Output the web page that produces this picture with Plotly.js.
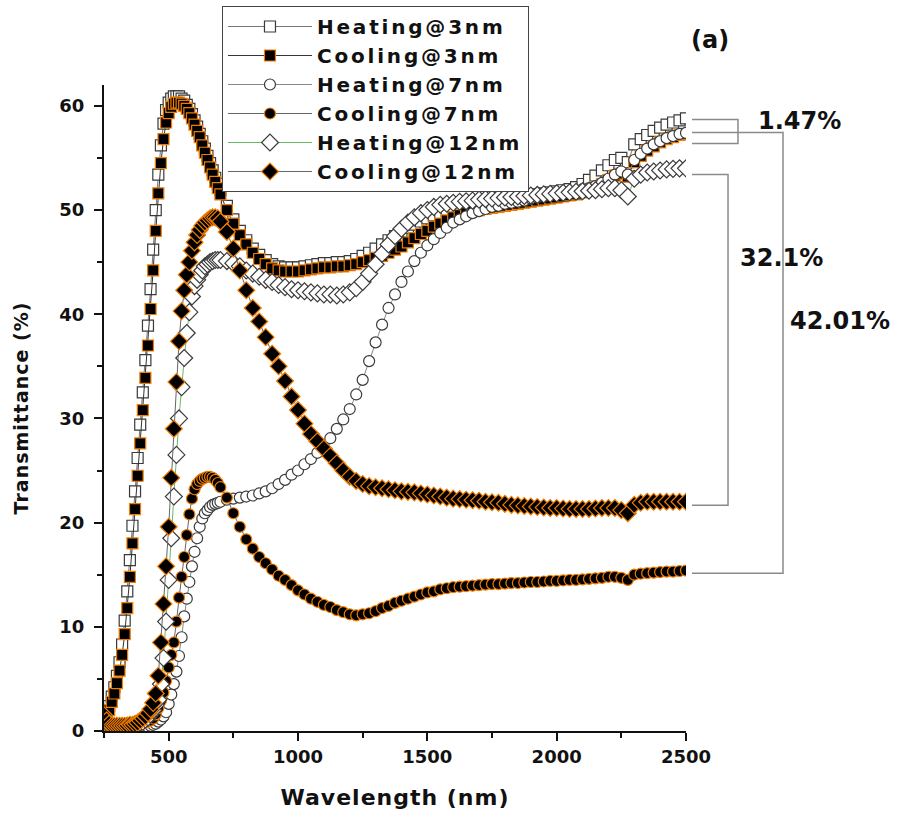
<!DOCTYPE html>
<html><head><meta charset="utf-8">
<script src="https://cdn.plot.ly/plotly-3.0.1.min.js"></script>
<style>html,body{margin:0;padding:0;background:#fff}#chart{width:901px;height:814px}
.legendtext{letter-spacing:2.8px}
.g-xtitle text,.g-ytitle text{letter-spacing:1px}
</style>
</head><body><div id="chart"></div>
<script>
// Wavelength grid (nm)
const wavelength = [
 250,260,270,280,290,300,310,320,330,340,
 350,360,370,380,390,400,410,420,430,440,
 450,460,470,480,490,500,510,520,530,540,
 550,560,570,580,590,600,610,620,630,640,
 650,660,670,680,690,700,725,750,775,800,
 825,850,875,900,925,950,975,1000,1025,1050,
 1075,1100,1125,1150,1175,1200,1225,1250,1275,1300,
 1325,1350,1375,1400,1425,1450,1475,1500,1525,1550,
 1575,1600,1625,1650,1675,1700,1725,1750,1775,1800,
 1825,1850,1875,1900,1925,1950,1975,2000,2025,2050,
 2075,2100,2125,2150,2175,2200,2225,2250,2275,2300,
 2325,2350,2375,2400,2425,2450,2475,2500];

const heating3 = [
 1.0,1.6,2.4,3.3,4.2,5.3,6.6,8.3,10.6,13.4,
 16.4,19.7,23.0,26.2,29.4,32.5,35.6,38.9,42.4,46.2,
 50.0,53.4,56.2,58.3,59.6,60.3,60.7,60.9,60.9,60.9,
 60.7,60.5,60.1,59.7,59.2,58.6,58.0,57.3,56.6,55.9,
 55.2,54.5,53.8,53.1,52.5,51.9,50.4,49.1,48.0,47.1,
 46.3,45.7,45.2,44.8,44.6,44.5,44.5,44.5,44.6,44.7,
 44.8,44.9,44.9,45.0,45.0,45.1,45.3,45.6,45.9,46.3,
 46.7,47.1,47.5,47.9,48.3,48.6,48.9,49.2,49.5,49.7,
 49.9,50.1,50.3,50.4,50.5,50.6,50.7,50.8,50.9,51.0,
 51.1,51.2,51.3,51.4,51.5,51.6,51.7,51.8,51.9,52.0,
 52.2,52.5,52.9,53.3,53.8,54.3,54.8,55.0,54.6,56.3,
 56.8,57.2,57.6,57.9,58.2,58.4,58.6,58.8];

const cooling3 = [
 0.8,1.3,2.0,2.8,3.6,4.6,5.8,7.3,9.3,11.8,
 14.8,18.0,21.3,24.5,27.6,30.8,33.9,37.0,40.5,44.2,
 48.0,51.6,54.5,56.8,58.4,59.3,59.9,60.2,60.3,60.3,
 60.2,60.0,59.7,59.3,58.8,58.2,57.6,57.0,56.2,55.5,
 54.8,54.1,53.4,52.7,52.1,51.5,50.0,48.7,47.6,46.7,
 45.9,45.3,44.8,44.4,44.2,44.1,44.1,44.1,44.2,44.3,
 44.4,44.5,44.5,44.6,44.6,44.7,44.8,45.0,45.2,45.4,
 45.6,45.9,46.2,46.5,46.9,47.3,47.7,48.0,48.4,48.7,
 49.0,49.3,49.5,49.7,49.9,50.0,50.1,50.2,50.3,50.4,
 50.5,50.6,50.7,50.8,50.9,51.0,51.1,51.2,51.3,51.4,
 51.5,51.7,51.9,52.2,52.5,52.9,53.3,53.5,53.2,54.6,
 55.2,55.7,56.1,56.5,56.8,57.0,57.2,57.3];

const heating7 = [
 0.8,0.5,0.3,0.2,0.2,0.2,0.2,0.2,0.2,0.2,
 0.2,0.3,0.3,0.3,0.3,0.3,0.4,0.4,0.5,0.6,
 0.7,0.9,1.1,1.4,1.8,2.6,3.5,4.5,5.7,7.2,
 9.0,11.0,12.7,14.3,15.8,17.2,18.5,19.6,20.4,20.9,
 21.2,21.5,21.7,21.8,21.9,22.0,22.2,22.3,22.4,22.5,
 22.6,22.8,23.0,23.3,23.7,24.1,24.6,25.0,25.6,26.1,
 26.7,27.3,28.1,29.0,29.9,30.9,32.3,33.7,35.5,37.3,
 39.0,40.6,41.9,43.1,44.1,45.1,45.9,46.6,47.2,47.8,
 48.3,48.8,49.1,49.4,49.7,49.9,50.1,50.3,50.4,50.6,
 50.7,50.8,50.9,51.1,51.2,51.3,51.4,51.5,51.6,51.7,
 51.8,52.0,52.1,52.3,52.6,53.0,53.4,53.7,53.4,54.8,
 55.4,55.9,56.3,56.6,56.9,57.1,57.3,57.4];

const cooling7 = [
 1.0,0.6,0.4,0.3,0.3,0.3,0.3,0.3,0.3,0.4,
 0.4,0.4,0.5,0.5,0.6,0.7,0.8,0.9,1.0,1.2,
 1.6,2.2,2.9,3.7,4.8,6.1,7.3,8.5,10.5,12.8,
 14.8,16.7,18.8,20.8,22.3,23.2,23.7,24.0,24.2,24.3,
 24.4,24.4,24.3,24.1,23.8,23.4,22.4,20.9,19.6,18.4,
 17.5,16.7,16.1,15.5,14.9,14.5,14.0,13.5,13.1,12.7,
 12.4,12.1,11.9,11.6,11.4,11.2,11.1,11.2,11.3,11.5,
 11.8,12.0,12.3,12.5,12.7,12.9,13.1,13.3,13.4,13.6,
 13.7,13.8,13.85,13.9,13.95,14.0,14.05,14.1,14.1,14.15,
 14.2,14.2,14.25,14.3,14.3,14.35,14.4,14.4,14.45,14.5,
 14.5,14.55,14.6,14.65,14.7,14.8,14.8,14.7,14.5,15.0,
 15.1,15.15,15.2,15.25,15.3,15.3,15.35,15.4];

const heating12 = [
 1.3,0.9,0.6,0.4,0.4,0.4,0.4,0.4,0.4,0.5,
 0.5,0.5,0.6,0.7,0.8,0.9,1.1,1.3,1.6,2.0,
 2.5,3.0,4.5,7.0,10.5,14.5,18.5,22.5,26.5,30.0,
 33.0,35.8,38.2,40.2,41.7,42.7,43.3,43.8,44.2,44.6,
 44.8,45.0,45.1,45.2,45.2,45.2,45.1,44.9,44.6,44.2,
 43.9,43.6,43.3,43.1,42.8,42.6,42.4,42.3,42.2,42.1,
 42.0,41.9,41.9,41.8,41.9,42.1,42.5,43.1,43.9,44.8,
 45.8,46.7,47.5,48.2,48.8,49.3,49.7,50.0,50.3,50.5,
 50.6,50.7,50.8,50.85,50.9,51.0,51.05,51.1,51.15,51.2,
 51.25,51.3,51.35,51.4,51.45,51.5,51.55,51.6,51.65,51.7,
 51.75,51.8,51.85,51.9,52.0,52.1,52.1,51.9,51.3,53.0,
 53.4,53.6,53.7,53.8,53.9,53.95,54.0,54.0];

const cooling12 = [
 1.5,1.0,0.7,0.5,0.5,0.5,0.5,0.5,0.5,0.5,
 0.6,0.6,0.7,0.8,1.0,1.2,1.4,1.7,2.1,2.7,
 3.6,5.3,8.5,12.2,15.8,19.6,24.3,29.0,33.5,37.4,
 40.3,42.3,43.8,45.0,46.1,46.9,47.6,48.1,48.5,48.8,
 49.0,49.2,49.3,49.3,49.2,48.9,47.9,46.3,44.2,42.3,
 40.6,39.3,37.8,36.2,35.0,33.6,32.1,30.8,29.5,28.5,
 27.8,27.1,26.4,25.7,25.0,24.4,24.0,23.7,23.5,23.4,
 23.3,23.2,23.1,23.0,22.95,22.9,22.8,22.7,22.6,22.5,
 22.4,22.3,22.25,22.2,22.15,22.1,22.0,21.95,21.9,21.8,
 21.7,21.65,21.6,21.55,21.5,21.45,21.4,21.4,21.35,21.3,
 21.3,21.3,21.3,21.35,21.4,21.4,21.4,21.2,20.9,21.7,
 21.9,22.0,22.0,22.0,22.0,22.0,22.0,22.0];

const seriesNames = ['Heating@3nm','Cooling@3nm','Heating@7nm','Cooling@7nm','Heating@12nm','Cooling@12nm'];
const seriesValues = [heating3, cooling3, heating7, cooling7, heating12, cooling12];

// Difference labels and the transmittance span each bracket covers
const diffLabels = ['1.47%','32.1%','42.01%'];
const bracketTop = [58.68, 53.40, 57.43];
const bracketBottom = [56.38, 21.67, 15.15];
const panelLabel = '(a)';

const FONT = 'DejaVu Sans, Verdana, sans-serif';
const ORANGE = '#f07d00';
const symbols = ['square','square','circle','circle','diamond','diamond'];
const fills = ['#ffffff','#000000','#ffffff','#000000','#ffffff','#000000'];
const edges = ['#3a3a3a',ORANGE,'#3a3a3a',ORANGE,'#3a3a3a',ORANGE];
const lineColors = ['#777777','#333333','#888888','#666666','#66bb66','#666666'];
const sizes = [11,11,11,11,13,13];

const traces = seriesNames.map((name, i) => ({
  type: 'scatter', mode: 'lines+markers', name: name,
  x: wavelength, y: seriesValues[i],
  line: {color: lineColors[i], width: 1},
  marker: {symbol: symbols[i], size: sizes[i], color: fills[i], line: {color: edges[i], width: 1.2}}
}));

// bracket geometry in paper x (outside the plot, right side)
const bracketX0 = [1.0103, 1.0103, 1.0103];
const bracketX1 = [1.0893, 1.0722, 1.1667];
const shapes = diffLabels.map((t, i) => ({
  type: 'path', xref: 'paper', yref: 'y',
  path: 'M' + bracketX0[i] + ',' + bracketTop[i] + ' L' + bracketX1[i] + ',' + bracketTop[i] +
        ' L' + bracketX1[i] + ',' + bracketBottom[i] + ' L' + bracketX0[i] + ',' + bracketBottom[i],
  line: {color: '#8a8a8a', width: 1.5}
}));

const labelX = [1.1942, 1.1649, 1.2646];
const labelY = [0.9443, 0.7322, 0.6347];
const annotations = diffLabels.map((t, i) => ({
  text: t, xref: 'paper', yref: 'paper', x: labelX[i], y: labelY[i],
  xanchor: 'center', yanchor: 'middle', showarrow: false,
  font: {family: FONT, size: 24, weight: 'bold', color: '#111'}
}));
annotations.push({text: panelLabel, xref: 'paper', yref: 'paper', x: 1.0412, y: 1.0697,
  xanchor: 'center', yanchor: 'middle', showarrow: false,
  font: {family: FONT, size: 24, weight: 'bold', color: '#111'}});

const axisFont = {family: FONT, size: 18, weight: 'bold', color: '#111'};
const layout = {
  width: 901, height: 814,
  margin: {l: 104, r: 215, t: 85, b: 83, autoexpand: false},
  paper_bgcolor: '#fff', plot_bgcolor: '#fff',
  font: {family: FONT, color: '#111'},
  showlegend: true,
  legend: {x: 0.2027, y: 1.1223, xanchor: 'left', yanchor: 'top',
    bgcolor: '#fff', bordercolor: '#444', borderwidth: 1,
    font: {family: FONT, size: 20, weight: 'bold', color: '#111'},
    itemwidth: 84, tracegroupgap: 0},
  xaxis: {range: [250, 2500], tick0: 0, dtick: 500, ticks: 'outside', ticklen: 8, tickwidth: 2, tickcolor: '#111',
    showline: true, linewidth: 2, linecolor: '#111', showgrid: false, zeroline: false,
    tickfont: axisFont,
    minor: {tick0: 0, dtick: 250, ticks: 'outside', ticklen: 5, tickwidth: 2, tickcolor: '#111', showgrid: false},
    title: {text: 'Wavelength (nm)', font: {family: FONT, size: 22, weight: 'bold', color: '#111'}, standoff: 24}},
  yaxis: {range: [0, 62], tick0: 0, dtick: 10, ticks: 'outside', ticklen: 8, tickwidth: 2, tickcolor: '#111',
    showline: true, linewidth: 2, linecolor: '#111', showgrid: false, zeroline: false,
    tickfont: axisFont, ticklabelstandoff: 6,
    minor: {tick0: 0, dtick: 5, ticks: 'outside', ticklen: 5, tickwidth: 2, tickcolor: '#111', showgrid: false},
    title: {text: 'Transmittance (%)', font: {family: FONT, size: 19, weight: 'bold', color: '#111'}, standoff: 26}},
  shapes: shapes,
  annotations: annotations
};

Plotly.newPlot('chart', traces, layout, {displayModeBar: false, staticPlot: true});
</script>
</body></html>
